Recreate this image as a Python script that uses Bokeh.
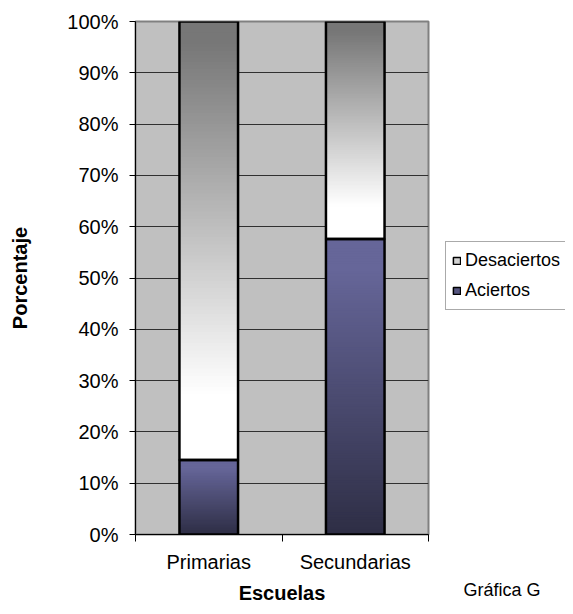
import numpy as np
from bokeh.plotting import figure
from bokeh.layouts import row
from bokeh.models import (Range1d, FixedTicker, Legend, LegendItem,
                          ColumnDataSource)
from bokeh.embed import file_html
from bokeh.resources import INLINE

# ---------------- data ----------------
categories = ["Primarias", "Secundarias"]
aciertos = [14.5, 57.6]          # percent
desaciertos = [85.5, 42.4]       # percent
series_names = ["Desaciertos", "Aciertos"]
y_ticks = [0, 10, 20, 30, 40, 50, 60, 70, 80, 90, 100]
y_tick_labels = ["0%", "10%", "20%", "30%", "40%", "50%", "60%", "70%", "80%", "90%", "100%"]
x_title = "Escuelas"
y_title = "Porcentaje"
footnote = "Gráfica G"

# ---------------- style ----------------
FONT = "Liberation Sans"
BAR_W = 0.4
ACI_TOP, ACI_BOT = (0x66, 0x66, 0x99), (0x2e, 0x2e, 0x45)
DES_TOP, DES_BOT = (0x77, 0x77, 0x77), (0xff, 0xff, 0xff)
N = 120
MAIN_W, SIDE_W, H = 438, 127, 606


def mix(c1, c2, t):
    t = min(max(t, 0.0), 1.0)
    return "#%02x%02x%02x" % tuple(int(round(a + (b - a) * t)) for a, b in zip(c1, c2))


def gradient_slices(xc, y0, y1, c_top, c_bot, t0=0.0, t1=1.0):
    """Stacked fill slices from y0 up to y1; each slice reaches the segment top,
    later (higher) slices cover the earlier ones, so there are no seams."""
    L, R, B, T, C = [], [], [], [], []
    edges = np.linspace(y0, y1, N + 1)
    for i in range(N):
        b = edges[i]
        frac_from_top = 1.0 - ((edges[i] + edges[i + 1]) / 2 - y0) / (y1 - y0)
        tt = (frac_from_top - t0) / (t1 - t0)
        L.append(xc - BAR_W / 2); R.append(xc + BAR_W / 2)
        B.append(b); T.append(y1)
        C.append(mix(c_top, c_bot, tt))
    return L, R, B, T, C


p = figure(width=MAIN_W, height=H,
           x_range=Range1d(0, len(categories)), y_range=Range1d(0, 100),
           output_backend="svg", toolbar_location=None,
           min_border_left=135, min_border_right=10,
           min_border_top=21, min_border_bottom=69)

p.border_fill_color = "white"
p.background_fill_color = "#c0c0c0"
p.outline_line_color = "#808080"
p.outline_line_width = 2

# gradient slices
data = dict(left=[], right=[], bottom=[], top=[], color=[])
outline = dict(left=[], right=[], bottom=[], top=[])
for i, cat in enumerate(categories):
    xc = i + 0.5
    a = aciertos[i]
    d = desaciertos[i]
    for (y0, y1, ct, cb, t0, t1) in [(0, a, ACI_TOP, ACI_BOT, 0.1, 1.0),
                                     (a, a + d, DES_TOP, DES_BOT, 0.05, 0.85)]:
        L, R, B, T, C = gradient_slices(xc, y0, y1, ct, cb, t0, t1)
        data["left"] += L; data["right"] += R
        data["bottom"] += B; data["top"] += T; data["color"] += C
        outline["left"].append(xc - BAR_W / 2); outline["right"].append(xc + BAR_W / 2)
        outline["bottom"].append(y0); outline["top"].append(y1)

p.quad(left="left", right="right", bottom="bottom", top="top",
       fill_color="color", line_color=None,
       source=ColumnDataSource(data))
p.quad(left="left", right="right", bottom="bottom", top="top",
       fill_color=None, line_color="black", line_width=2.5,
       source=ColumnDataSource(outline))

# y axis
p.yaxis.ticker = FixedTicker(ticks=y_ticks)
p.yaxis.major_label_overrides = {t: lab for t, lab in zip(y_ticks, y_tick_labels)}
p.yaxis.minor_tick_line_color = None
p.yaxis.major_tick_in = 0
p.yaxis.major_tick_out = 6
p.yaxis.major_label_standoff = 11
p.yaxis.major_label_text_font = FONT
p.yaxis.major_label_text_font_size = "20px"
p.yaxis.major_label_text_color = "black"
p.yaxis.axis_label = y_title
p.yaxis.axis_label_text_font = FONT
p.yaxis.axis_label_text_font_style = "bold"
p.yaxis.axis_label_text_font_size = "20px"
p.yaxis.axis_label_text_color = "black"
p.yaxis.axis_label_standoff = 33
p.yaxis.axis_line_color = "black"

# x axis
centers = [i + 0.5 for i in range(len(categories))]
bounds = [float(i) for i in range(len(categories) + 1)]
p.xaxis.ticker = FixedTicker(ticks=centers, minor_ticks=bounds)
p.xaxis.major_label_overrides = {c: lab for c, lab in zip(centers, categories)}
p.xaxis.major_tick_in = 0
p.xaxis.major_tick_out = 0
p.xaxis.minor_tick_in = 0
p.xaxis.minor_tick_out = 7
p.xaxis.minor_tick_line_color = "black"
p.xaxis.major_label_standoff = 9
p.xaxis.major_label_text_font = FONT
p.xaxis.major_label_text_font_size = "20px"
p.xaxis.major_label_text_color = "black"
p.xaxis.axis_label = x_title
p.xaxis.axis_label_text_font = FONT
p.xaxis.axis_label_text_font_style = "bold"
p.xaxis.axis_label_text_font_size = "20px"
p.xaxis.axis_label_text_color = "black"
p.xaxis.axis_label_standoff = 6
p.xaxis.axis_line_color = "black"

# grid
p.xgrid.visible = False
p.ygrid.ticker = FixedTicker(ticks=y_ticks)
p.ygrid.grid_line_color = "#303030"
p.ygrid.grid_line_width = 1

# ---------------- side panel: legend + footnote ----------------
s = figure(width=SIDE_W, height=H, x_range=Range1d(0, 1), y_range=Range1d(0, 1),
           output_backend="svg", toolbar_location=None, min_border=0)
s.yaxis.visible = False
s.grid.visible = False
s.outline_line_color = None
s.background_fill_color = "white"
s.border_fill_color = "white"

# swatch renderers for the legend: their single box lies outside the panel's
# ranges, so it is clipped away and only the legend swatch is seen
swatch = dict(left=[2], right=[3], bottom=[2], top=[3])
r_des = s.quad(left="left", right="right", bottom="bottom", top="top",
               fill_color="#d2d2d2", line_color="black", line_width=1.5,
               source=ColumnDataSource(swatch))
r_aci = s.quad(left="left", right="right", bottom="bottom", top="top",
               fill_color="#55557f", line_color="black", line_width=1.5,
               source=ColumnDataSource(swatch))

legend = Legend(items=[LegendItem(label=series_names[0], renderers=[r_des]),
                       LegendItem(label=series_names[1], renderers=[r_aci])],
                location=(7, 224))
legend.label_text_font = FONT
legend.label_text_font_size = "18px"
legend.label_text_color = "black"
legend.glyph_width = 9
legend.glyph_height = 9
legend.label_height = 25
legend.label_standoff = 4
legend.padding = 6
legend.spacing = 5
legend.margin = 0
legend.border_line_color = "#555555"
legend.border_line_width = 1
legend.background_fill_color = "white"
legend.background_fill_alpha = 1
s.add_layout(legend, "center")

# footnote as the (otherwise empty) bottom axis title of the side panel
s.xaxis.ticker = FixedTicker(ticks=[])
s.xaxis.axis_line_color = None
s.xaxis.major_tick_line_color = None
s.xaxis.minor_tick_line_color = None
s.xaxis.axis_label = footnote
s.xaxis.axis_label_text_font = FONT
s.xaxis.axis_label_text_font_size = "18px"
s.xaxis.axis_label_text_font_style = "normal"
s.xaxis.axis_label_text_color = "black"
s.xaxis.axis_label_standoff = 45

layout = row(p, s, spacing=0)
open("out.html", "w").write(file_html(layout, INLINE))
